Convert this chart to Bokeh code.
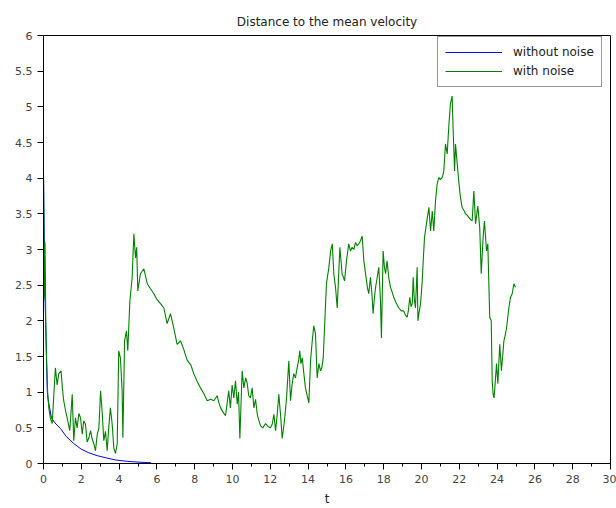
from bokeh.plotting import figure
from bokeh.models import Range1d, FixedTicker, Legend, LegendItem
from bokeh.embed import file_html
from bokeh.resources import INLINE

title_text = "Distance to the mean velocity"
x_label = "t"
series_names = ["without noise", "with noise"]

x_ticks = [0, 2, 4, 6, 8, 10, 12, 14, 16, 18, 20, 22, 24, 26, 28, 30]
x_minor = [1, 3, 5, 7, 9, 11, 13, 15, 17, 19, 21, 23, 25, 27, 29]
y_ticks = [0, 0.5, 1, 1.5, 2, 2.5, 3, 3.5, 4, 4.5, 5, 5.5, 6]
y_tick_labels = ["0", "0.5", "1", "1.5", "2", "2.5", "3", "3.5", "4", "4.5", "5", "5.5", "6"]

t_clean = [0, 0.08, 0.2, 0.24, 0.42, 0.6, 0.9, 1.2, 1.6, 2.0, 2.4, 2.84, 3.3, 3.8, 4.43, 5.0, 5.7]
v_clean = [4.07, 2.35, 1.02, 0.9, 0.64, 0.57, 0.49, 0.38, 0.28, 0.2, 0.15, 0.11, 0.08, 0.05, 0.03, 0.02, 0.01]

t_noise = [0, 0.04, 0.08, 0.12, 0.16, 0.22, 0.28, 0.36, 0.46, 0.55, 0.63, 0.72, 0.81, 0.93, 1.0,
           1.07, 1.16, 1.25, 1.39, 1.52, 1.6, 1.69, 1.78, 1.87, 1.96, 2.05, 2.13, 2.22, 2.31, 2.4,
           2.49, 2.57, 2.66, 2.75, 2.84, 2.93, 3.02, 3.1, 3.19, 3.28, 3.37, 3.45, 3.54, 3.63, 3.72,
           3.81, 3.9, 3.98, 4.07, 4.16, 4.2, 4.29, 4.39, 4.46, 4.57, 4.69, 4.78, 4.87, 4.93, 4.99,
           5.13, 5.31, 5.49, 5.66, 5.84, 6.0, 6.19, 6.37, 6.54, 6.72, 6.89, 7.07, 7.25, 7.42, 7.6,
           7.8, 7.95, 8.13, 8.31, 8.48, 8.66, 8.85, 9.01, 9.19, 9.28, 9.37, 9.5, 9.63, 9.8, 9.89,
           9.98, 10.07, 10.16, 10.25, 10.32, 10.39, 10.51, 10.6, 10.7, 10.78, 10.86, 10.95, 11.04, 11.13, 11.22,
           11.31, 11.4, 11.48, 11.6, 11.75, 11.88, 12.01, 12.1, 12.19, 12.28, 12.37, 12.45, 12.54, 12.63, 12.75,
           12.86, 12.98, 13.07, 13.15, 13.24, 13.33, 13.42, 13.5, 13.56, 13.62, 13.69, 13.78, 13.86, 13.95, 14.04,
           14.13, 14.22, 14.3, 14.39, 14.48, 14.57, 14.66, 14.73, 14.8, 14.87, 14.97, 15.1, 15.19, 15.28, 15.36,
           15.45, 15.54, 15.61, 15.68, 15.8, 15.93, 16.03, 16.15, 16.24, 16.33, 16.42, 16.51, 16.6, 16.68, 16.77,
           16.86, 16.95, 17.02, 17.09, 17.15, 17.21, 17.3, 17.37, 17.44, 17.5, 17.57, 17.65, 17.74, 17.83, 17.88,
           17.97, 18.04, 18.1, 18.18, 18.27, 18.36, 18.45, 18.53, 18.66, 18.8, 18.93, 19.06, 19.15, 19.24, 19.31,
           19.38, 19.45, 19.51, 19.56, 19.62, 19.68, 19.77, 19.81, 19.86, 19.95, 20.04, 20.09, 20.16, 20.26, 20.39,
           20.48, 20.57, 20.65, 20.74, 20.83, 20.92, 21.0, 21.1, 21.18, 21.27, 21.36, 21.44, 21.53, 21.62, 21.67,
           21.75, 21.8, 21.89, 21.97, 22.06, 22.15, 22.24, 22.33, 22.42, 22.5, 22.6, 22.68, 22.77, 22.86, 22.98,
           23.08, 23.16, 23.26, 23.33, 23.44, 23.51, 23.56, 23.61, 23.69, 23.74, 23.79, 23.84, 23.88, 23.97, 24.04,
           24.14, 24.23, 24.36, 24.43, 24.5, 24.62, 24.71, 24.8, 24.89, 24.97]
v_noise = [4.07, 2.3, 3.1, 2.0, 1.48, 1.0, 0.78, 0.64, 0.56, 0.98, 1.34, 1.1, 1.26, 1.3, 1.05,
           0.88, 0.75, 0.64, 0.46, 0.97, 0.32, 0.64, 0.5, 0.7, 0.64, 0.41, 0.6, 0.55, 0.3, 0.36,
           0.46, 0.35, 0.28, 0.18, 0.4, 0.5, 1.02, 0.74, 0.32, 0.45, 0.18, 0.5, 0.78, 0.56, 0.22,
           0.14, 0.28, 1.58, 1.48, 1.02, 0.36, 1.72, 1.86, 1.58, 2.28, 2.6, 3.22, 2.88, 3.03, 2.42,
           2.66, 2.73, 2.52, 2.45, 2.38, 2.3, 2.24, 2.18, 1.96, 2.1, 1.9, 1.67, 1.72, 1.6, 1.45,
           1.38, 1.26, 1.15, 1.06, 0.98, 0.88, 0.9, 0.88, 0.95, 0.85, 0.78, 0.72, 0.67, 1.02, 0.78,
           1.1, 0.92, 1.16, 0.83, 1.0, 0.35, 1.3, 1.06, 1.2, 1.12, 0.95, 0.92, 1.06, 0.78, 0.9,
           0.69, 0.6, 0.53, 0.5, 0.56, 0.52, 0.5, 0.55, 0.69, 0.46, 0.7, 0.97, 0.69, 0.35, 0.6,
           0.92, 1.44, 0.88, 1.1, 1.26, 1.2, 1.34, 1.45, 1.58, 1.4, 1.48, 1.25, 1.06, 0.95, 0.85,
           1.44, 1.72, 1.93, 1.82, 1.2, 1.4, 1.3, 1.35, 1.48, 1.9, 2.52, 2.75, 2.98, 3.08, 2.66,
           2.47, 2.18, 2.6, 3.03, 2.66, 2.56, 2.84, 3.08, 2.98, 3.03, 3.0, 3.1, 3.05, 3.08, 3.12,
           3.19, 2.84, 2.7, 2.56, 2.45, 2.38, 2.61, 2.4, 2.1, 2.3, 2.47, 2.6, 2.75, 2.28, 1.76,
           2.98, 2.75, 2.66, 2.84, 2.6, 2.47, 2.4, 2.33, 2.25, 2.18, 2.14, 2.14, 2.08, 2.05, 2.15,
           2.33, 2.2, 2.24, 2.61, 2.3, 2.18, 2.75, 2.0, 2.1, 2.24, 2.56, 2.84, 3.17, 3.36, 3.59,
           3.26, 3.54, 3.26, 3.68, 3.92, 4.01, 3.98, 4.01, 4.1, 4.48, 4.34, 4.71, 5.04, 5.15, 4.71,
           4.1, 4.48, 4.2, 3.96, 3.73, 3.59, 3.55, 3.5, 3.48, 3.45, 3.42, 3.4, 3.82, 3.36, 3.61,
           3.31, 2.66, 3.17, 3.4, 2.98, 3.08, 2.56, 2.05, 2.0, 1.16, 0.97, 0.92, 1.06, 1.4, 1.12,
           1.67, 1.3, 1.72, 1.8, 1.9, 2.18, 2.33, 2.38, 2.52, 2.47]

FONT = "DejaVu Sans"

p = figure(width=616, height=508, output_backend="svg", toolbar_location=None,
           x_range=Range1d(0, 30), y_range=Range1d(0, 6),
           min_border_left=43, min_border_right=6, min_border_top=35, min_border_bottom=45)

p.title.text = title_text
p.title.align = "center"
p.title.text_font = FONT
p.title.text_font_size = "12px"
p.title.text_font_style = "normal"
p.title.text_color = "#222222"
p.title.standoff = 13

p.xgrid.visible = False
p.ygrid.visible = False
p.outline_line_color = "black"
p.outline_line_alpha = 1
p.background_fill_color = "white"
p.border_fill_color = "white"

p.xaxis.ticker = FixedTicker(ticks=x_ticks, minor_ticks=x_minor)
p.yaxis.ticker = FixedTicker(ticks=y_ticks, minor_ticks=[])
p.yaxis.major_label_overrides = {v: s for v, s in zip(y_ticks, y_tick_labels)}
p.xaxis.axis_label = x_label

for ax in (p.xaxis, p.yaxis):
    ax.axis_line_color = "black"
    ax.major_tick_line_color = "black"
    ax.minor_tick_line_color = "black"
    ax.major_tick_out = 6
    ax.major_tick_in = 0
    ax.minor_tick_out = 3
    ax.minor_tick_in = 0
    ax.major_label_text_font = FONT
    ax.major_label_text_font_size = "11px"
    ax.major_label_text_color = "#444444"
    ax.major_label_standoff = 5
    ax.axis_label_text_font = FONT
    ax.axis_label_text_font_size = "12px"
    ax.axis_label_text_font_style = "normal"
    ax.axis_label_text_color = "#222222"
    ax.axis_label_standoff = 6

r1 = p.line(t_clean, v_clean, line_color="#0000ff", line_width=1)
r2 = p.line(t_noise, v_noise, line_color="#008000", line_width=1.1)

legend = Legend(items=[LegendItem(label=series_names[0], renderers=[r1]),
                       LegendItem(label=series_names[1], renderers=[r2])],
                location=(394, 376))
legend.glyph_width = 57
legend.glyph_height = 16
legend.label_height = 16
legend.label_standoff = 11
legend.spacing = 3
legend.padding = 7
legend.margin = 0
legend.label_text_font = FONT
legend.label_text_font_size = "12px"
legend.label_text_color = "#222222"
legend.border_line_color = "#333333"
legend.border_line_width = 1.5
legend.background_fill_alpha = 1
p.add_layout(legend)

open("out.html", "w").write(file_html(p, INLINE))
